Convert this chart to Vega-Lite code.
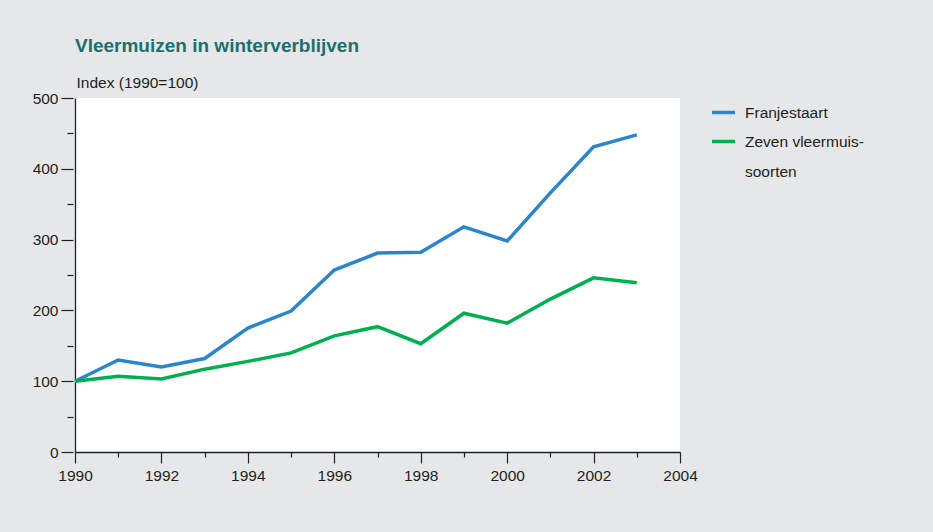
{
  "$schema": "https://vega.github.io/schema/vega-lite/v6.json",
  "width": 605,
  "height": 354,
  "autosize": {"type": "none"},
  "padding": {"left": 75, "top": 98, "right": 253, "bottom": 80},
  "background": "#e6e7e8",
  "title": {
    "text": "Vleermuizen in winterverblijven",
    "anchor": "start",
    "frame": "group",
    "font": "Liberation Sans",
    "fontSize": 19,
    "fontWeight": "bold",
    "color": "#1b6f70",
    "baseline": "alphabetic",
    "offset": 4
  },
  "data": {
    "values": [
      {"year": 1990, "series": "Franjestaart", "index": 100},
      {"year": 1991, "series": "Franjestaart", "index": 130},
      {"year": 1992, "series": "Franjestaart", "index": 120},
      {"year": 1993, "series": "Franjestaart", "index": 132},
      {"year": 1994, "series": "Franjestaart", "index": 175},
      {"year": 1995, "series": "Franjestaart", "index": 199},
      {"year": 1996, "series": "Franjestaart", "index": 257},
      {"year": 1997, "series": "Franjestaart", "index": 281},
      {"year": 1998, "series": "Franjestaart", "index": 282},
      {"year": 1999, "series": "Franjestaart", "index": 318},
      {"year": 2000, "series": "Franjestaart", "index": 298},
      {"year": 2001, "series": "Franjestaart", "index": 366},
      {"year": 2002, "series": "Franjestaart", "index": 431},
      {"year": 2003, "series": "Franjestaart", "index": 448},
      {"year": 1990, "series": "Zeven vleermuis-soorten", "index": 100},
      {"year": 1991, "series": "Zeven vleermuis-soorten", "index": 107},
      {"year": 1992, "series": "Zeven vleermuis-soorten", "index": 103},
      {"year": 1993, "series": "Zeven vleermuis-soorten", "index": 117},
      {"year": 1994, "series": "Zeven vleermuis-soorten", "index": 128},
      {"year": 1995, "series": "Zeven vleermuis-soorten", "index": 140},
      {"year": 1996, "series": "Zeven vleermuis-soorten", "index": 164},
      {"year": 1997, "series": "Zeven vleermuis-soorten", "index": 177},
      {"year": 1998, "series": "Zeven vleermuis-soorten", "index": 153},
      {"year": 1999, "series": "Zeven vleermuis-soorten", "index": 196},
      {"year": 2000, "series": "Zeven vleermuis-soorten", "index": 182},
      {"year": 2001, "series": "Zeven vleermuis-soorten", "index": 216},
      {"year": 2002, "series": "Zeven vleermuis-soorten", "index": 246},
      {"year": 2003, "series": "Zeven vleermuis-soorten", "index": 239}
    ]
  },
  "layer": [
    {
      "mark": {"type": "line", "strokeWidth": 3.5},
      "encoding": {
        "x": {
          "field": "year",
          "type": "quantitative",
          "scale": {"domain": [1990, 2004], "nice": false, "zero": false},
          "axis": {
            "title": null,
            "values": [1990, 1991, 1992, 1993, 1994, 1995, 1996, 1997, 1998, 1999, 2000, 2001, 2002, 2003, 2004],
            "format": "d",
            "labelExpr": "datum.value % 2 === 0 ? datum.label : ''",
            "tickSize": {"condition": {"test": "datum.value % 2 === 0", "value": 11}, "value": 5},
            "labelPadding": 5,
            "labelFlush": false,
            "labelOverlap": false,
            "grid": false
          }
        },
        "y": {
          "field": "index",
          "type": "quantitative",
          "scale": {"domain": [0, 500], "nice": false},
          "axis": {
            "orient": "left",
            "values": [0, 50, 100, 150, 200, 250, 300, 350, 400, 450, 500],
            "labelExpr": "datum.value % 100 === 0 ? datum.label : ''",
            "tickSize": {"condition": {"test": "datum.value % 100 === 0", "value": 12}, "value": 6},
            "domain": false,
            "offset": 2,
            "labelPadding": 3,
            "labelOverlap": false,
            "grid": false,
            "title": "Index (1990=100)",
            "titleAngle": 0,
            "titleAlign": "left",
            "titleBaseline": "alphabetic",
            "titleX": 3,
            "titleY": -11,
            "titleFont": "Liberation Sans",
            "titleFontSize": 15.5,
            "titleFontWeight": "normal",
            "titleColor": "#231f20"
          }
        },
        "color": {
          "field": "series",
          "type": "nominal",
          "scale": {"domain": ["Franjestaart", "Zeven vleermuis-soorten"], "range": ["#2b86c9", "#00b050"]},
          "legend": {
            "orient": "none",
            "legendX": 635,
            "legendY": 1,
            "title": null,
            "symbolType": "stroke",
            "symbolSize": 529,
            "symbolStrokeWidth": 3.5,
            "labelOffset": 8,
            "labelFont": "Liberation Sans",
            "labelFontSize": 15.5,
            "labelColor": "#231f20",
            "labelLimit": 300,
            "rowPadding": 7,
            "labelExpr": "datum.label == 'Zeven vleermuis-soorten' ? ['Zeven vleermuis-', 'soorten'] : datum.label",
            "encode": {"labels": {"update": {"lineHeight": {"value": 30}}}}
          }
        }
      }
    },
    {
      "mark": {"type": "line", "opacity": 0},
      "encoding": {
        "x": {"field": "year", "type": "quantitative"},
        "y": {
          "field": "index",
          "type": "quantitative",
          "axis": {"orient": "left", "domain": true, "ticks": false, "labels": false, "title": null, "grid": false}
        },
        "detail": {"field": "series"}
      }
    }
  ],
  "resolve": {"axis": {"y": "independent"}},
  "config": {
    "view": {"fill": "white", "stroke": null},
    "axis": {
      "domainColor": "#231f20",
      "domainWidth": 1.3,
      "tickColor": "#231f20",
      "tickWidth": 1.2,
      "labelFont": "Liberation Sans",
      "labelFontSize": 15.5,
      "labelColor": "#231f20"
    }
  }
}
